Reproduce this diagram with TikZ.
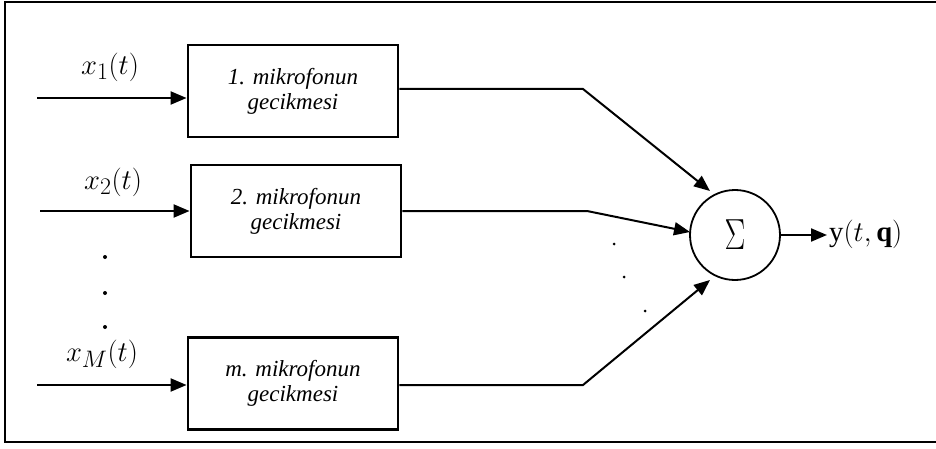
\documentclass[tikz,border=0pt]{standalone}
\usepackage{fontspec}
\setmainfont{Liberation Serif}
\usepackage{graphicx}
\usetikzlibrary{arrows.meta}
\newcommand{\biglab}[1]{\scalebox{1.15}{#1}}
\begin{document}
\begin{tikzpicture}[x=1pt,y=-1pt,
  blockbox/.style={draw,line width=2.8pt,minimum width=210pt,minimum height=92pt,inner sep=0pt,
    align=center,font=\fontsize{23}{25}\selectfont\itshape},
  sumnode/.style={draw,circle,line width=1.8pt,minimum size=90pt,inner sep=0pt},
  sig/.style={line width=2pt},
  arr/.style={sig,-{Triangle[length=16pt,width=13pt]}},
  lab/.style={font=\fontsize{24.88}{28}\selectfont,inner sep=0pt},
  bigdot/.style={fill,circle,inner sep=0pt,minimum size=4pt},
  smalldot/.style={fill,circle,inner sep=0pt,minimum size=3pt}]
\useasboundingbox (0,0) rectangle (936,449);
\draw[line width=2.8pt] (940,2) -- (5,2) -- (5,442) -- (940,442);

\node[blockbox] (b1) at (293,91) {1. mikrofonun\\gecikmesi};
\node[blockbox] (b2) at (296,211) {2. mikrofonun\\gecikmesi};
\node[blockbox] (b3) at (293,383.5) {m. mikrofonun\\gecikmesi};
\node[sumnode] (s) at (735,235) {\scalebox{1.25}[1.75]{\fontsize{24.88}{26}\selectfont$\Sigma$}};

\coordinate (i1) at (37,98);
\coordinate (i2) at (40,211);
\coordinate (i3) at (37,385);
\draw[arr] (i1) -- (i1 -| b1.west);
\draw[arr] (i2) -- (i2 -| b2.west);
\draw[arr] (i3) -- (i3 -| b3.west);

\node[lab] (l1) at (110,67) {\biglab{$x_1(t)$}};
\node[lab] (l2) at (113,182) {\biglab{$x_2(t)$}};
\node[lab] (l3) at (102,354) {\biglab{$x_M(t)$}};

\node[bigdot] (d1) at (105,257) {};
\node[bigdot] (d2) at (105,293) {};
\node[bigdot] (d3) at (105,327) {};

\coordinate (c1) at (583,89);
\coordinate (c2) at (587,211);
\coordinate (c3) at (583,385);
\coordinate (t1) at (710,191);
\coordinate (t2) at (690,232);
\coordinate (t3) at (710,280);
\draw[arr] (c1 -| b1.east) -- (c1) -- (t1);
\draw[arr] (c2 -| b2.east) -- (c2) -- (t2);
\draw[arr] (c3 -| b3.east) -- (c3) -- (t3);

\node[smalldot] (m1) at (614,244) {};
\node[smalldot] (m2) at (624,277) {};
\node[smalldot] (m3) at (645,311) {};

\coordinate (o) at (827,235);
\draw[arr] (s.east) -- (o);
\node[lab,anchor=west] (out) at (829,234) {\biglab{$\mathrm{y}(t,\mathbf{q})$}};
\end{tikzpicture}
\end{document}
